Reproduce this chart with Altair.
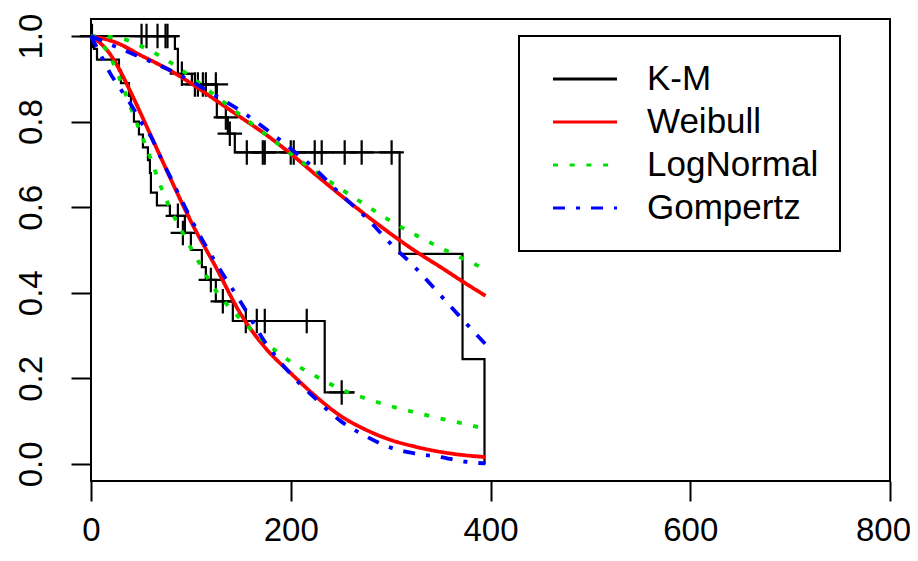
import altair as alt
import pandas as pd

# ---------------- data ----------------
models = ["K-M", "Weibull", "LogNormal", "Gompertz"]
model_colors = ["#000000", "#FF0000", "#00E000", "#0000FF"]
model_dashes = [[1, 0], [1, 0], [5, 11.7], [12, 11, 4, 11]]

# Kaplan-Meier, group A (upper curve)
km_a_t = [0, 84, 87, 101, 126, 137, 144, 309, 372, 394]
km_a_s = [1.0, 0.97, 0.912, 0.887, 0.81, 0.772, 0.728, 0.491, 0.245, 0.0]
cens_a_t = [1, 50.6, 55.6, 66.6, 74.6, 76.6, 91, 104, 107, 112, 115, 125,
            135, 139, 156, 172, 174, 200, 203, 224, 231, 254, 271, 301]
cens_a_s = [1.0, 1.0, 1.0, 1.0, 1.0, 1.0, 0.912, 0.887, 0.887, 0.887, 0.887, 0.887,
            0.81, 0.772, 0.728, 0.728, 0.728, 0.728, 0.728, 0.728, 0.728, 0.728, 0.728, 0.728]

# Kaplan-Meier, group B (lower curve)
km_b_t = [0, 3, 6, 28, 30, 38, 40, 43, 48, 52, 57, 59, 60, 66, 79, 94, 100,
          111, 115, 125, 142, 234, 264]
km_b_s = [1.0, 0.97, 0.945, 0.92, 0.89, 0.86, 0.83, 0.80, 0.77, 0.74, 0.71, 0.68,
          0.634, 0.604, 0.58, 0.54, 0.50, 0.46, 0.43, 0.38, 0.334, 0.167, 0.167]
cens_b_t = [87, 92, 120, 132, 155, 166, 174, 216, 251]
cens_b_s = [0.58, 0.54, 0.43, 0.38, 0.334, 0.334, 0.334, 0.334, 0.167]

# Fitted curves, group A
fit_a_t = [0, 25, 50, 75, 100, 125, 150, 175, 200, 225, 250, 275, 300, 325, 350, 375, 395]
weib_a = [1.0, 0.985, 0.955, 0.925, 0.89, 0.85, 0.81, 0.77, 0.725, 0.676, 0.628,
          0.582, 0.538, 0.497, 0.46, 0.422, 0.393]
lnorm_a = [1.0, 0.997, 0.977, 0.945, 0.905, 0.86, 0.815, 0.77, 0.725, 0.683, 0.643,
           0.605, 0.568, 0.535, 0.505, 0.477, 0.455]
gomp_a = [1.0, 0.975, 0.95, 0.925, 0.895, 0.86, 0.825, 0.783, 0.737, 0.688, 0.63,
          0.577, 0.515, 0.458, 0.394, 0.33, 0.28]

# Fitted curves, group B
fit_b_t = [0, 10, 20, 30, 40, 50, 60, 70, 80, 90, 100, 125, 150, 175, 200, 225,
           250, 275, 300, 325, 350, 375, 395]
weib_b = [1.0, 0.982, 0.955, 0.915, 0.868, 0.818, 0.767, 0.716, 0.665, 0.615, 0.567,
          0.46, 0.35, 0.27, 0.212, 0.158, 0.112, 0.08, 0.056, 0.04, 0.028, 0.02, 0.016]
lnorm_b = [1.0, 0.985, 0.948, 0.893, 0.832, 0.772, 0.712, 0.648, 0.593, 0.548, 0.505,
           0.405, 0.338, 0.283, 0.239, 0.205, 0.175, 0.153, 0.135, 0.12, 0.106, 0.093, 0.082]
gomp_b = [1.0, 0.955, 0.91, 0.875, 0.84, 0.80, 0.765, 0.715, 0.668, 0.62, 0.573,
          0.47, 0.378, 0.282, 0.21, 0.152, 0.10, 0.065, 0.038, 0.024, 0.016, 0.005, 0.001]

x_ticks = [0, 200, 400, 600, 800]
y_ticks = [0.0, 0.2, 0.4, 0.6, 0.8, 1.0]

# ---------------- tables ----------------
def frame(ts, ss, grp, model):
    return pd.DataFrame({"t": ts, "S": ss, "grp": grp, "model": model})

km_df = pd.concat([frame(km_a_t, km_a_s, "A", "K-M"), frame(km_b_t, km_b_s, "B", "K-M")])
cens_df = pd.concat([frame(cens_a_t, cens_a_s, "A", "K-M"), frame(cens_b_t, cens_b_s, "B", "K-M")])
weib_df = pd.concat([frame(fit_a_t, weib_a, "A", "Weibull"), frame(fit_b_t, weib_b, "B", "Weibull")])
lnorm_df = pd.concat([frame(fit_a_t, lnorm_a, "A", "LogNormal"), frame(fit_b_t, lnorm_b, "B", "LogNormal")])
gomp_df = pd.concat([frame(fit_a_t, gomp_a, "A", "Gompertz"), frame(fit_b_t, gomp_b, "B", "Gompertz")])

FONT = "Liberation Sans"

x_enc = alt.X("t:Q", scale=alt.Scale(domain=[0, 800], nice=False, zero=False),
              axis=alt.Axis(values=x_ticks, title=None, labelFlush=False,
                            labelPadding=13, format="d",
                            labelOffset={"condition": {"test": "datum.value == 800", "value": -7},
                                         "value": 0}))
y_enc = alt.Y("S:Q", scale=alt.Scale(domain=[-0.04, 1.04], nice=False, zero=False),
              axis=alt.Axis(values=y_ticks, title=None, format=".1f", labelAngle=270,
                            labelAlign="center", labelBaseline="alphabetic",
                            labelPadding=30, labelFlush=False))

legend = alt.Legend(title=None, orient="none", legendX=428, legendY=17)
color_enc = alt.Color("model:N", sort=models,
                      scale=alt.Scale(domain=models, range=model_colors), legend=legend)
dash_enc = alt.StrokeDash("model:N", sort=models,
                          scale=alt.Scale(domain=models, range=model_dashes), legend=legend)

km_layer = alt.Chart(km_df).mark_line(interpolate="step-after", strokeWidth=2.2).encode(
    x=x_enc, y=y_enc, color=color_enc, strokeDash=dash_enc, detail="grp:N")

cross_path = "M -1 0 L 1 0 M 0 -1 L 0 1"
cens_layer = alt.Chart(cens_df).mark_point(
    shape=cross_path, size=600, filled=False, strokeWidth=2.2, color="black", opacity=1
).encode(x=x_enc, y=y_enc)

def fit_layer(df):
    return alt.Chart(df).mark_line(interpolate="monotone", strokeWidth=3.8).encode(
        x=x_enc, y=y_enc, color=color_enc, strokeDash=dash_enc, detail="grp:N")

chart = alt.layer(
    km_layer, cens_layer, fit_layer(weib_df), fit_layer(lnorm_df), fit_layer(gomp_df)
).properties(
    width=799, height=462,
    autosize=alt.AutoSizeParams(type="none"),
    padding={"left": 83, "top": 11, "right": 20, "bottom": 70},
    background="white",
).configure_view(
    stroke="black", strokeWidth=2
).configure_axis(
    domain=False, grid=False,
    tickColor="black", tickWidth=2, tickSize=20,
    labelFont=FONT, labelFontSize=33, labelColor="black",
).configure_legend(
    symbolType="stroke", symbolSize=4096, symbolStrokeWidth=3,
    labelFont=FONT, labelFontSize=35, labelColor="black", labelLimit=400,
    strokeColor="black", strokeWidth=2, fillColor="white",
    clipHeight=42.7, rowPadding=0,
    padding=21.65, symbolOffset=10.85, labelOffset=28.5,
)

chart.save("out.html", embed_options={"renderer": "svg", "actions": False})
